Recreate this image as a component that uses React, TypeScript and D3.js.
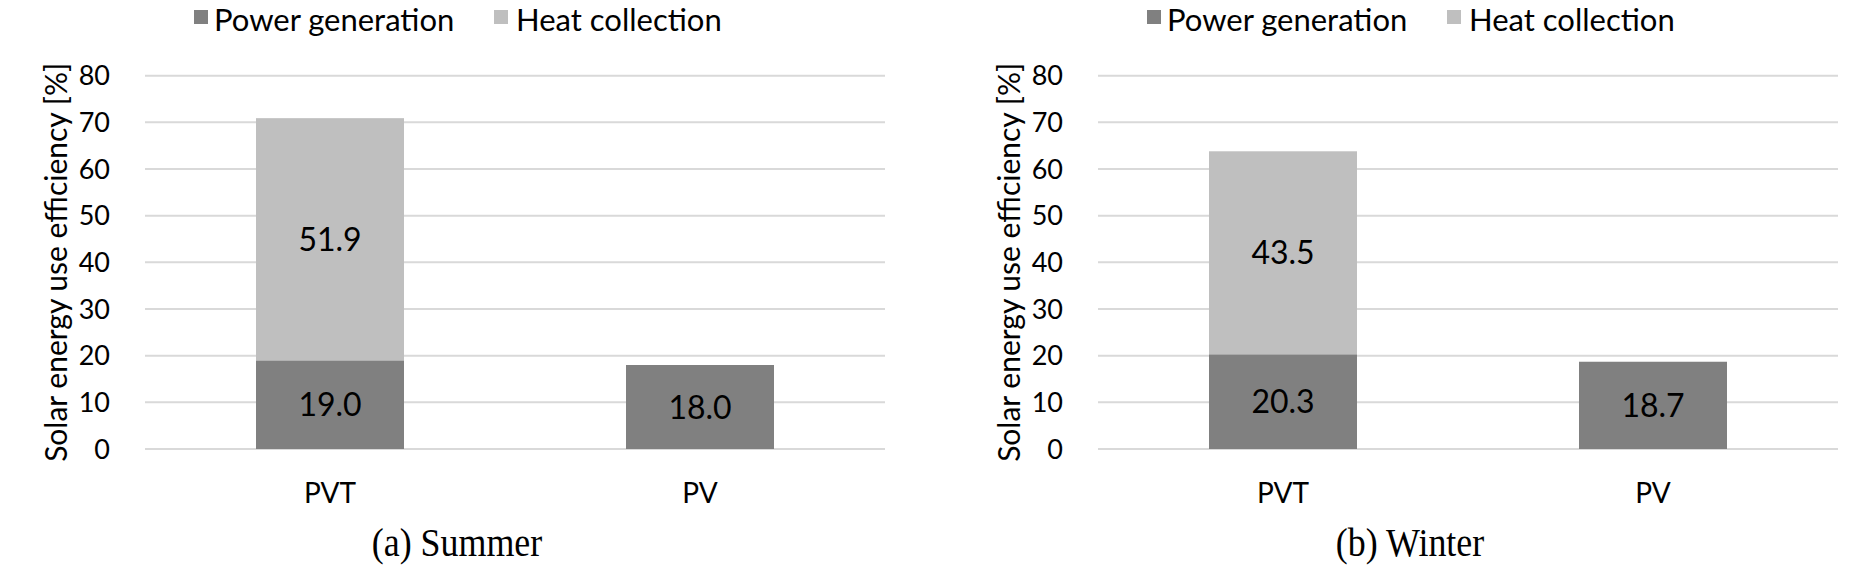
import React from "react";
import * as d3 from "d3";

const categories = ["PVT", "PV"];
const seriesNames = ["Power generation", "Heat collection"];
const summerPower = [19.0, 18.0];
const summerHeat = [51.9, 0];
const winterPower = [20.3, 18.7];
const winterHeat = [43.5, 0];
const yTicks = [0, 10, 20, 30, 40, 50, 60, 70, 80];
const captions = ["(a) Summer", "(b) Winter"];
const yTitle = "Solar energy use efficiency [%]";

const colors = ["#808080", "#bfbfbf"];
const SANS = "Lato, 'Open Sans', sans-serif";
const SERIF = "'Liberation Serif', 'Times New Roman', serif";

function Panel({ dx, power, heat, caption }: { dx: number; power: number[]; heat: number[]; caption: string }) {
  const x = d3.scaleBand().domain(categories).range([145 + dx, 885 + dx]).paddingInner(0.6).paddingOuter(0.3);
  const y = d3.scaleLinear().domain([0, 80]).range([449, 75.7]);
  const rows = categories.map((c, i) => ({ cat: c, power: power[i], heat: heat[i] }));
  const stack = d3.stack<any>().keys(["power", "heat"])(rows as any);
  const [x0, x1] = x.range();
  return (
    <g>
      {/* legend */}
      <g>
        <rect x={194 + dx} y={10} width={14} height={14} fill={colors[0]} />
        <text x={214 + dx} y={30.5} fontFamily={SANS} fontSize={31} fill="#000">{seriesNames[0]}</text>
        <rect x={494 + dx} y={10} width={14} height={14} fill={colors[1]} />
        <text x={516 + dx} y={30.5} fontFamily={SANS} fontSize={31} fill="#000">{seriesNames[1]}</text>
      </g>
      {/* gridlines */}
      {yTicks.map((t) => (
        <line key={t} x1={x0} x2={x1} y1={y(t)} y2={y(t)} stroke="#d9d9d9" strokeWidth={2} />
      ))}
      {/* tick labels */}
      {yTicks.map((t) => (
        <text key={"l" + t} x={110 + dx} y={y(t)} dy="0.36em" textAnchor="end" fontFamily={SANS} fontSize={27} fill="#000">
          {t}
        </text>
      ))}
      {/* y title */}
      <text
        transform={`translate(${56 + dx},${(y(0) + y(80)) / 2}) rotate(-90)`}
        textAnchor="middle"
        dy="0.35em"
        fontFamily={SANS}
        fontSize={30}
        fill="#000"
      >
        {yTitle}
      </text>
      {/* bars */}
      {stack.map((s, si) =>
        s.map((d: any, i: number) => {
          const v = d[1] - d[0];
          if (v <= 0) return null;
          const bx = x(categories[i])!;
          return (
            <g key={si + "-" + i}>
              <rect x={bx} y={y(d[1])} width={x.bandwidth()} height={y(d[0]) - y(d[1])} fill={colors[si]} />
              <text
                x={bx + x.bandwidth() / 2}
                y={(y(d[0]) + y(d[1])) / 2}
                dy="0.36em"
                textAnchor="middle"
                fontFamily={SANS}
                fontSize={32}
                fill="#000"
              >
                {v.toFixed(1)}
              </text>
            </g>
          );
        })
      )}
      {/* category labels */}
      {categories.map((c) => (
        <text key={c} x={x(c)! + x.bandwidth() / 2} y={503} textAnchor="middle" fontFamily={SANS} fontSize={28} fill="#000">
          {c}
        </text>
      ))}
      {/* caption */}
      <text
        transform={`translate(${457 + dx},556) scale(0.97,1.1)`}
        textAnchor="middle"
        fontFamily={SERIF}
        fontSize={37}
        fill="#000"
      >
        {caption}
      </text>
    </g>
  );
}

export default function App() {
  return (
    <svg width={1867} height={565} style={{ position: "absolute", left: 0, top: 0, background: "#fff" }}>
      <rect width={1867} height={565} fill="#fff" />
      <Panel dx={0} power={summerPower} heat={summerHeat} caption={captions[0]} />
      <Panel dx={953} power={winterPower} heat={winterHeat} caption={captions[1]} />
    </svg>
  );
}
